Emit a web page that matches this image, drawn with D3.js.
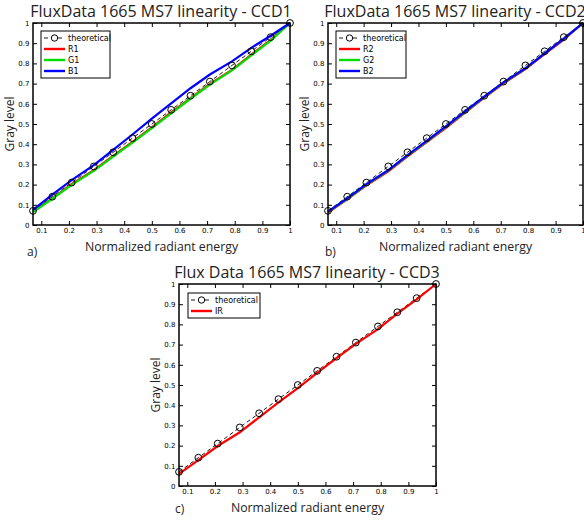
<!DOCTYPE html>
<html>
<head>
<meta charset="utf-8">
<script src="https://cdn.jsdelivr.net/npm/d3@7"></script>
<style>
  body { margin: 0; background: #fff; }
  svg { display: block; font-family: "Open Sans", "DejaVu Sans", sans-serif; }
</style>
</head>
<body>
<div id="chart"></div>
<script>
// sample positions (normalized radiant energy)
var energy = [0.07, 0.14, 0.21, 0.29, 0.36, 0.43, 0.5, 0.57, 0.64, 0.71, 0.79, 0.86, 0.93, 1.0];
var theoretical = [0.07, 0.14, 0.21, 0.29, 0.36, 0.43, 0.5, 0.57, 0.64, 0.71, 0.79, 0.86, 0.93, 1.0];

// CCD1
var r1 = [0.066, 0.132, 0.202, 0.272, 0.342, 0.412, 0.483, 0.557, 0.628, 0.698, 0.768, 0.843, 0.917, 1.0];
var g1 = [0.064, 0.130, 0.199, 0.268, 0.338, 0.408, 0.480, 0.553, 0.625, 0.695, 0.765, 0.840, 0.913, 1.0];
var b1 = [0.075, 0.150, 0.222, 0.296, 0.372, 0.448, 0.527, 0.602, 0.677, 0.745, 0.810, 0.877, 0.937, 1.0];
// CCD2
var r2 = [0.062, 0.127, 0.196, 0.266, 0.340, 0.410, 0.481, 0.556, 0.630, 0.701, 0.772, 0.846, 0.918, 1.0];
var g2 = [0.065, 0.130, 0.200, 0.270, 0.344, 0.414, 0.486, 0.560, 0.634, 0.705, 0.775, 0.849, 0.922, 1.0];
var b2 = [0.066, 0.132, 0.202, 0.272, 0.346, 0.416, 0.488, 0.562, 0.636, 0.706, 0.776, 0.850, 0.923, 1.0];
// CCD3
var ir = [0.060, 0.128, 0.198, 0.266, 0.340, 0.414, 0.485, 0.560, 0.633, 0.704, 0.777, 0.853, 0.924, 1.0];

var xTicks = [0.1, 0.2, 0.3, 0.4, 0.5, 0.6, 0.7, 0.8, 0.9, 1];
var yTicks = [0, 0.1, 0.2, 0.3, 0.4, 0.5, 0.6, 0.7, 0.8, 0.9, 1];

var panels = [
  { title: "FluxData 1665 MS7 linearity - CCD1", tag: "a)",
    box: {left: 33, right: 290, top: 23, bottom: 225}, titleX: 161, ylabX: 14, tagX: 27, tagY: 256,
    legend: {x: 41, y: 31, w: 69},
    series: [{name: "R1", values: r1, color: "#ff0000"},
             {name: "G1", values: g1, color: "#00e000"},
             {name: "B1", values: b1, color: "#0000ff"}] },
  { title: "FluxData 1665 MS7 linearity - CCD2", tag: "b)",
    box: {left: 328, right: 583, top: 23, bottom: 225}, titleX: 455, ylabX: 309, tagX: 325, tagY: 256,
    legend: {x: 336, y: 31, w: 70},
    series: [{name: "R2", values: r2, color: "#ff0000"},
             {name: "G2", values: g2, color: "#00e000"},
             {name: "B2", values: b2, color: "#0000ff"}] },
  { title: "Flux Data 1665 MS7 linearity - CCD3", tag: "c)",
    box: {left: 179, right: 436, top: 284, bottom: 486}, titleX: 307, ylabX: 160, tagX: 175, tagY: 513,
    legend: {x: 188, y: 293, w: 72},
    series: [{name: "IR", values: ir, color: "#ff0000"}] }
];

var svg = d3.select("#chart").append("svg")
  .attr("width", 584)
  .attr("height", 520);

panels.forEach(drawPanel);

function drawPanel(p) {
  var b = p.box;
  var x = d3.scaleLinear().domain([0.07, 1]).range([b.left, b.right]);
  var y = d3.scaleLinear().domain([0, 1]).range([b.bottom, b.top]);
  var g = svg.append("g");

  g.append("rect")
    .attr("x", b.left).attr("y", b.top)
    .attr("width", b.right - b.left).attr("height", b.bottom - b.top)
    .attr("fill", "#fff");

  // ticks inward on all four sides
  var axB = d3.axisBottom(x).tickValues(xTicks).tickSizeInner(-4).tickSizeOuter(0).tickPadding(3)
    .tickFormat(function(d) { return d === 1 ? "1" : d3.format(".1f")(d); });
  var axT = d3.axisTop(x).tickValues(xTicks).tickSizeInner(-4).tickSizeOuter(0).tickFormat("");
  var axL = d3.axisLeft(y).tickValues(yTicks).tickSizeInner(-4).tickSizeOuter(0).tickPadding(3.5)
    .tickFormat(function(d) { return d === 0 ? "0" : d === 1 ? "1" : d3.format(".1f")(d); });
  var axR = d3.axisRight(y).tickValues(yTicks).tickSizeInner(-4).tickSizeOuter(0).tickFormat("");

  [[axB, "translate(0," + b.bottom + ")"], [axT, "translate(0," + b.top + ")"],
   [axL, "translate(" + b.left + ",0)"], [axR, "translate(" + b.right + ",0)"]].forEach(function(a) {
    var ag = g.append("g").attr("transform", a[1]).call(a[0]);
    ag.select(".domain").remove();
    ag.selectAll("line").attr("stroke", "#000");
    ag.selectAll("text").attr("font-size", 7).attr("fill", "#000")
      .attr("font-family", "'DejaVu Sans', sans-serif");
  });

  var line = d3.line().x(function(d) { return x(d[0]); }).y(function(d) { return y(d[1]); });

  // theoretical
  var th = energy.map(function(e, i) { return [e, theoretical[i]]; });
  g.append("path").datum(th).attr("d", line)
    .attr("fill", "none").attr("stroke", "#000").attr("stroke-width", 0.9)
    .attr("stroke-dasharray", "4,3");

  p.series.forEach(function(s) {
    g.append("path").datum(energy.map(function(e, i) { return [e, s.values[i]]; }))
      .attr("d", line).attr("fill", "none")
      .attr("stroke", s.color).attr("stroke-width", 2.2);
  });

  g.selectAll("circle.th").data(th).enter().append("circle")
    .attr("cx", function(d) { return x(d[0]); })
    .attr("cy", function(d) { return y(d[1]); })
    .attr("r", 3.4).attr("fill", "none").attr("stroke", "#000").attr("stroke-width", 1);

  // frame
  g.append("rect")
    .attr("x", b.left).attr("y", b.top)
    .attr("width", b.right - b.left).attr("height", b.bottom - b.top)
    .attr("fill", "none").attr("stroke", "#000").attr("stroke-width", 1.5);

  // legend
  var L = p.legend, rowH = 11;
  var rows = [{name: "theoretical", color: "#000", th: true}].concat(p.series);
  var lg = g.append("g");
  lg.append("rect").attr("x", L.x).attr("y", L.y)
    .attr("width", L.w).attr("height", rows.length * rowH + 3)
    .attr("fill", "#fff").attr("stroke", "#000").attr("stroke-width", 1);
  rows.forEach(function(r, i) {
    var ry = L.y + 7 + i * rowH;
    if (r.th) {
      lg.append("line").attr("x1", L.x + 3).attr("x2", L.x + 24).attr("y1", ry).attr("y2", ry)
        .attr("stroke", "#000").attr("stroke-width", 0.9).attr("stroke-dasharray", "4,3");
      lg.append("circle").attr("cx", L.x + 13.5).attr("cy", ry).attr("r", 3.2)
        .attr("fill", "#fff").attr("stroke", "#000");
    } else {
      lg.append("line").attr("x1", L.x + 3).attr("x2", L.x + 24).attr("y1", ry).attr("y2", ry)
        .attr("stroke", r.color).attr("stroke-width", 2.4);
    }
    lg.append("text").attr("x", L.x + 27).attr("y", ry + 3)
      .attr("font-size", 8).attr("font-family", "'DejaVu Sans', sans-serif").text(r.name);
  });

  // titles
  svg.append("text").attr("x", p.titleX).attr("y", b.top - 6)
    .attr("text-anchor", "middle").attr("font-size", 16).attr("fill", "#222").text(p.title);
  svg.append("text").attr("x", (b.left + b.right) / 2).attr("y", b.bottom + 26)
    .attr("text-anchor", "middle").attr("font-size", 12.3).attr("fill", "#222").text("Normalized radiant energy");
  svg.append("text")
    .attr("transform", "translate(" + p.ylabX + "," + ((b.top + b.bottom) / 2) + ") rotate(-90)")
    .attr("text-anchor", "middle").attr("font-size", 12).attr("fill", "#222").text("Gray level");
  svg.append("text").attr("x", p.tagX).attr("y", p.tagY)
    .attr("font-size", 12).attr("fill", "#222").text(p.tag);
}
</script>
</body>
</html>
